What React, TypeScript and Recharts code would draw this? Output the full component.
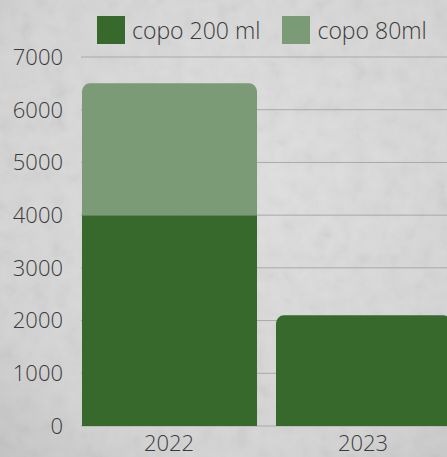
import React from 'react';
import { BarChart, Bar, XAxis, YAxis, CartesianGrid, Rectangle } from 'recharts';

// values
const years = ['2022', '2023'];
const copo200 = [4000, 2100];
const copo80 = [2500, 0];
const yTicks = [0, 1000, 2000, 3000, 4000, 5000, 6000, 7000];

const series = [
  { key: 'copo200', name: 'copo 200 ml', color: '#37692D' },
  { key: 'copo80', name: 'copo 80ml', color: '#7B9B77' },
];

const data = years.map((year, i) => ({
  year,
  copo200: copo200[i],
  copo80: copo80[i],
}));

const FONT = '"Open Sans", sans-serif';
const TEXT = '#3b3b3b';

// the top piece of each stack gets rounded corners
const shapeFor = (key) => (props) => {
  const { height, payload } = props;
  if (!height) return null;
  const isTop = key === 'copo80' || !payload.copo80;
  return <Rectangle {...props} radius={isTop ? [8, 8, 0, 0] : 0} />;
};

const Background = () => (
  <svg width={447} height={457} style={{ position: 'absolute', left: 0, top: 0 }}>
    <defs>
      <radialGradient id="bg" cx="55%" cy="40%" r="80%">
        <stop offset="0%" stopColor="#e0e0e0" />
        <stop offset="75%" stopColor="#d4d4d4" />
        <stop offset="100%" stopColor="#c4c4c4" />
      </radialGradient>
      <filter id="grain">
        <feTurbulence type="fractalNoise" baseFrequency="0.06" numOctaves="4" seed="5" />
        <feColorMatrix type="saturate" values="0" />
        <feComponentTransfer>
          <feFuncA type="linear" slope="0.18" />
        </feComponentTransfer>
      </filter>
    </defs>
    <rect width={447} height={457} fill="url(#bg)" />
    <rect width={447} height={457} filter="url(#grain)" />
  </svg>
);

export default function App() {
  return (
    <div
      style={{
        position: 'absolute',
        left: 0,
        top: 0,
        width: 447,
        height: 457,
        overflow: 'hidden',
        fontFamily: FONT,
      }}
    >
      <Background />
      <div
        style={{
          position: 'absolute',
          top: 16,
          left: 97,
          width: 360,
          display: 'flex',
          alignItems: 'center',
          whiteSpace: 'nowrap',
          fontSize: 23,
          fontWeight: 300,
          color: TEXT,
        }}
      >
        {series.map((s) => (
          <div
            key={s.key}
            style={{ display: 'flex', alignItems: 'center', flexShrink: 0, marginRight: 22 }}
          >
            <span style={{ width: 28, height: 28, background: s.color, marginRight: 7 }} />
            <span style={{ lineHeight: '28px' }}>{s.name}</span>
          </div>
        ))}
      </div>
      <div style={{ position: 'absolute', left: 0, top: 0 }}>
        <BarChart
          width={460}
          height={457}
          data={data}
          margin={{ top: 57, right: 0, left: 0, bottom: 1 }}
        >
          <CartesianGrid vertical={false} stroke="#a9a9a9" />
          <XAxis
            dataKey="year"
            axisLine={false}
            tickLine={false}
            height={30}
            padding={{ left: -9, right: 0 }}
            tickMargin={3}
            tick={{ fontSize: 22, fill: TEXT, fontFamily: FONT, fontWeight: 300 }}
          />
          <YAxis
            width={81}
            domain={[0, 7000]}
            ticks={yTicks}
            axisLine={false}
            tickLine={false}
            tickSize={0}
            tickMargin={18}
            tick={{ fontSize: 22, fill: TEXT, fontFamily: FONT, fontWeight: 300 }}
          />
          {series.map((s) => (
            <Bar
              key={s.key}
              dataKey={s.key}
              name={s.name}
              stackId="a"
              fill={s.color}
              barSize={175}
              shape={shapeFor(s.key)}
              isAnimationActive={false}
            />
          ))}
        </BarChart>
      </div>
    </div>
  );
}
